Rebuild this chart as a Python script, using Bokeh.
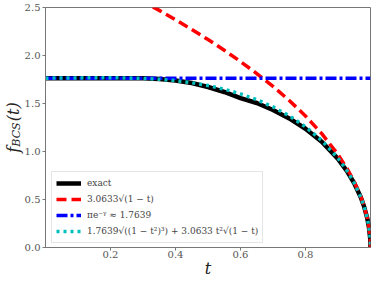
from bokeh.plotting import figure
from bokeh.models import (Range1d, FixedTicker, PrintfTickFormatter, Legend, LegendItem,
                          LinearAxis)
from bokeh.embed import file_html
from bokeh.resources import INLINE

# reduced temperature t = T/Tc
t_vals = [0.0, 0.1, 0.2, 0.3, 0.35, 0.4, 0.45, 0.5, 0.55, 0.6, 0.65, 0.7, 0.75, 0.8,
          0.85, 0.9, 0.93, 0.95, 0.97, 0.98, 0.99, 0.995, 0.999, 1.0]
exact_vals = [1.764, 1.764, 1.764, 1.762, 1.756, 1.739, 1.713, 1.672, 1.620, 1.557, 1.505,
              1.432, 1.345, 1.237, 1.101, 0.923, 0.784, 0.669, 0.524, 0.430, 0.305, 0.216,
              0.097, 0.0]
near_tc_vals = [3.063, 2.906, 2.740, 2.563, 2.470, 2.373, 2.272, 2.166, 2.055, 1.937, 1.812,
                1.678, 1.532, 1.370, 1.186, 0.969, 0.810, 0.685, 0.531, 0.433, 0.306, 0.217,
                0.097, 0.0]
zero_t_vals = [1.7639] * 24
interp_vals = [1.7639, 1.7666, 1.7687, 1.7619, 1.752, 1.7377, 1.716, 1.6872, 1.649, 1.6006,
               1.540, 1.4645, 1.372, 1.258, 1.115, 0.931, 0.789, 0.672, 0.5245, 0.430, 0.305,
               0.2162, 0.0968, 0.0]

legend_labels = ["exact", "3.0633√(1 − t)", "πe⁻ᵞ ≈ 1.7639",
                 "1.7639√((1 − t²)³) + 3.0633 t²√(1 − t)"]
x_ticks = [0.2, 0.4, 0.6, 0.8]
y_ticks = [0.0, 0.5, 1.0, 1.5, 2.0, 2.5]
x_title = "t"
y_title_main = "f\u00a0\u00a0\u00a0\u00a0\u00a0(t)"      # f _____ (t)
y_title_sub = "BCS\u00a0\u00a0\u00a0\u00a0"             # subscript of f

SERIF = "DejaVu Serif"
GRAY = "#777777"
INK = "#222222"

p = figure(width=374, height=281, output_backend="svg", toolbar_location=None,
           x_range=Range1d(0.0, 1.0), y_range=Range1d(0.0, 2.5),
           min_border_left=38, min_border_right=4, min_border_top=7,
           min_border_bottom=34)
p.grid.visible = False
p.outline_line_color = GRAY
p.outline_line_width = 1
p.background_fill_color = "white"
p.border_fill_color = "white"

for ax in (p.xaxis, p.yaxis):
    ax.axis_line_color = GRAY
    ax.major_tick_line_color = GRAY
    ax.minor_tick_line_color = None
    ax.major_tick_in = 0
    ax.major_tick_out = 3
    ax.minor_tick_out = 0
    ax.major_label_text_font = SERIF
    ax.major_label_text_font_size = "10px"
    ax.major_label_text_color = "#555555"
p.yaxis.major_label_standoff = 2
p.xaxis.major_label_standoff = 0
p.xaxis.ticker = FixedTicker(ticks=x_ticks)
p.yaxis.ticker = FixedTicker(ticks=y_ticks)
p.xaxis.formatter = PrintfTickFormatter(format="%.1f")
p.yaxis.formatter = PrintfTickFormatter(format="%.1f")
p.xaxis.axis_label = x_title
p.xaxis.axis_label_text_font = SERIF
p.xaxis.axis_label_text_font_style = "italic"
p.xaxis.axis_label_text_font_size = "16px"
p.xaxis.axis_label_text_color = INK
p.xaxis.axis_label_standoff = -2


def title_axis(text, size, standoff):
    a = LinearAxis(ticker=FixedTicker(ticks=[]), axis_line_color=None,
                   major_tick_line_color=None, minor_tick_line_color=None,
                   major_tick_out=0, minor_tick_out=0, major_label_standoff=0,
                   axis_label=text, axis_label_text_font=SERIF,
                   axis_label_text_font_style="italic",
                   axis_label_text_font_size=size, axis_label_text_color=INK,
                   axis_label_standoff=standoff)
    return a


p.add_layout(title_axis(y_title_sub, "11px", -1), "left")
p.add_layout(title_axis(y_title_main, "16px", -16), "left")

r_exact = p.line(t_vals, exact_vals, line_color="black", line_width=4.5)
r_near = p.line(t_vals, near_tc_vals, line_color="#ff0000", line_width=3.5, line_dash="10 5")
r_zero = p.line(t_vals, zero_t_vals, line_color="#0000ff", line_width=3.5, line_dash="11 3 3 3")
r_interp = p.line(t_vals, interp_vals, line_color="#00bfbf", line_width=3.5, line_dash="3 4")

legend = Legend(items=[LegendItem(label=legend_labels[0], renderers=[r_exact]),
                       LegendItem(label=legend_labels[1], renderers=[r_near]),
                       LegendItem(label=legend_labels[2], renderers=[r_zero]),
                       LegendItem(label=legend_labels[3], renderers=[r_interp])],
                location=(6, 4))
legend.label_text_font = SERIF
legend.label_text_font_size = "9px"
legend.label_text_color = "#444444"
legend.glyph_width = 25
legend.glyph_height = 14
legend.label_height = 14
legend.label_standoff = 6
legend.spacing = 2
legend.padding = 4
legend.margin = 0
legend.border_line_color = "#cccccc"
legend.border_line_width = 1
legend.background_fill_alpha = 0.85
p.add_layout(legend, "center")

open("out.html", "w").write(file_html(p, INLINE))
